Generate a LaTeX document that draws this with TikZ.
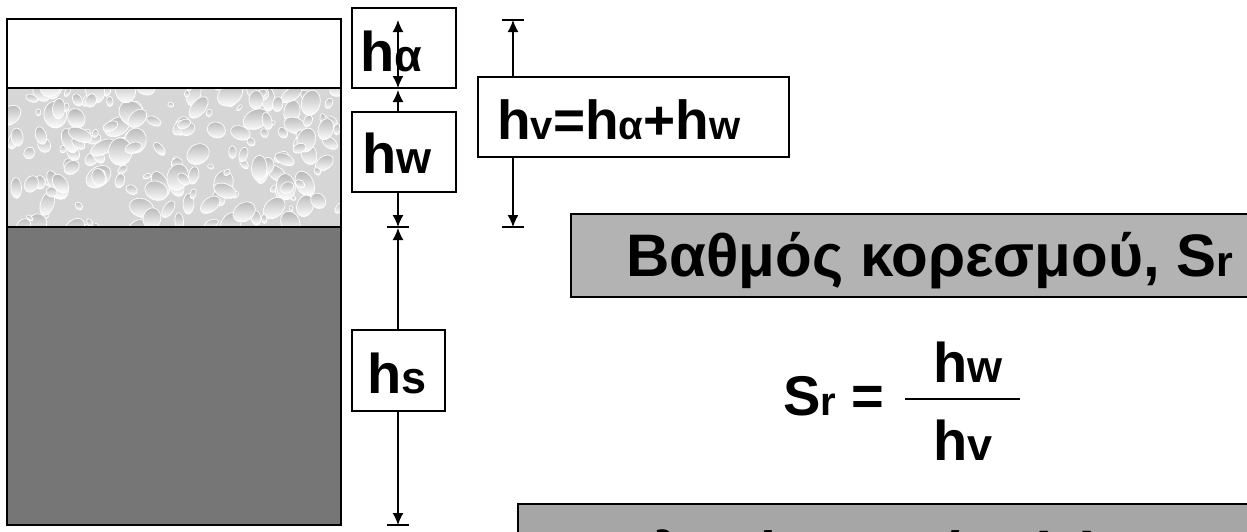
\documentclass[tikz,border=0pt]{standalone}
\usepackage{fontspec}
\setmainfont{Liberation Sans}
\usetikzlibrary{arrows.meta}

\definecolor{solidgray}{HTML}{767676}
\definecolor{titlegray}{HTML}{B3B3B3}
\definecolor{notegray}{HTML}{A6A6A6}
\definecolor{waterbase}{HTML}{D6D6D6}

% big bold symbol with a smaller index on the same baseline
\newcommand\bigsym[2]{{\fontsize{56}{60}\selectfont\bfseries #1}{\fontsize{45}{48}\selectfont\bfseries #2}}

\tikzset{
  dimline/.style={line width=1.4pt, <->, >={Latex[length=12pt,width=11pt]}},
  dimtick/.style={line width=1.6pt},
  labelbox/.style={draw, line width=1.5pt, fill=white, inner sep=0pt},
  plaintext/.style={inner sep=0pt, anchor=base west},
  layerline/.style={line width=2pt},
  greybox/.style={draw, line width=2pt},
}

\begin{document}
\begin{tikzpicture}[x=1pt,y=-1pt]
\useasboundingbox (0,0) rectangle (1247,531);
\begin{scope}
\clip (0,0) rectangle (1247,531);

% ---- soil column: air, water, solids ----
\fill[white] (7,19) rectangle (341,88);
\begin{scope}
  \clip (7,88) rectangle (341,227);
  \fill[waterbase] (7,88) rectangle (341,227);
  \pgfmathsetseed{42}
  \foreach \k in {1,...,190}{
    \pgfmathsetmacro\dx{7+334*rnd}
    \pgfmathsetmacro\dy{84+148*rnd}
    \pgfmathsetmacro\rr{3+11*rnd}
    \pgfmathsetmacro\qq{\rr*(0.5+0.35*rnd)}
    \pgfmathsetmacro\ang{-70+140*rnd}
    \begin{scope}[shift={(\dx,\dy)}, rotate=\ang]
      \shade[top color=gray!55, bottom color=white] (0,0) ellipse [x radius=\qq, y radius=\rr];
      \draw[white, line width=0.7pt] (0,0) ellipse [x radius=\qq, y radius=\rr];
    \end{scope}
  }
\end{scope}
\fill[solidgray] (7,227) rectangle (341,525);
\draw[layerline] (7,19) rectangle (341,525);
\draw[layerline] (7,88) -- (341,88);
\draw[layerline] (7,227) -- (341,227);

% ---- dimension line of the three layers ----
\coordinate (a0) at (398,20);
\coordinate (a1) at (398,88);
\coordinate (w0) at (398,90);
\coordinate (w1) at (398,227);
\coordinate (s0) at (398,228);
\coordinate (s1) at (398,525);
\foreach \c in {a0,w1,s1}{
  \draw[dimtick] (\c) ++(-11,0) -- ++(22,0);
}

\node[labelbox, minimum width=104pt, minimum height=80pt] (habox) at (404,48) {};
\node[plaintext] (hatext) at (360,71) {\bigsym{h}{α}};
\draw[dimline] (a0) -- (a1);

\draw[dimline] (w0) -- (w1);
\node[labelbox, minimum width=104pt, minimum height=80pt] (hwbox) at (404,152) {};
\node[plaintext] (hwtext) at (362,173) {\bigsym{h}{w}};

\draw[dimline] (s0) -- (s1);
\node[labelbox, minimum width=93pt, minimum height=81pt] (hsbox) at (398.5,370.5) {};
\node[plaintext] (hstext) at (367,393) {\bigsym{h}{s}};

% ---- void height ----
\coordinate (v0) at (513,20);
\coordinate (v1) at (513,227);
\foreach \c in {v0,v1}{
  \draw[dimtick] (\c) ++(-11,0) -- ++(22,0);
}
\draw[dimline] (v0) -- (v1);
\node[labelbox, minimum width=311pt, minimum height=80pt] (hvbox) at (633.5,117) {};
\node[plaintext] (hvtext) at (497,139)
  {{\fontsize{55}{60}\selectfont\bfseries h}{\fontsize{40}{44}\selectfont\bfseries v}%
   {\fontsize{55}{60}\selectfont\bfseries =h}{\fontsize{40}{44}\selectfont\bfseries α}%
   {\fontsize{55}{60}\selectfont\bfseries +h}{\fontsize{40}{44}\selectfont\bfseries w}};

% ---- degree of saturation ----
\node[greybox, fill=titlegray, minimum width=690pt, minimum height=83pt, anchor=north west] (titlebox) at (570,213) {};
\node[plaintext] (titletext) at (626,276)
  {{\fontsize{60}{66}\selectfont\bfseries Βαθμός κορεσμού, S}{\fontsize{43}{47}\selectfont\bfseries r}};

\node[plaintext] (srlhs) at (783,415)
  {{\fontsize{56}{60}\selectfont\bfseries S}{\fontsize{40}{44}\selectfont\bfseries r}{\fontsize{56}{60}\selectfont\bfseries{} =}};
\coordinate (barl) at (905,399);
\coordinate (barr) at (1020,399);
\draw[line width=1.8pt] (barl) -- (barr);
\node[plaintext] (srnum) at (933,382) {\bigsym{h}{w}};
\node[plaintext] (srden) at (933,460) {\bigsym{h}{v}};

% ---- next definition box ----
\node[greybox, fill=notegray, minimum width=750pt, minimum height=80pt, anchor=north west] (notebox) at (517,503) {};
\node[plaintext] (notetext) at (540,575)
  {\fontsize{61}{66}\selectfont\bfseries Αναλογία κενών (e)};
\end{scope}
\end{tikzpicture}
\end{document}
